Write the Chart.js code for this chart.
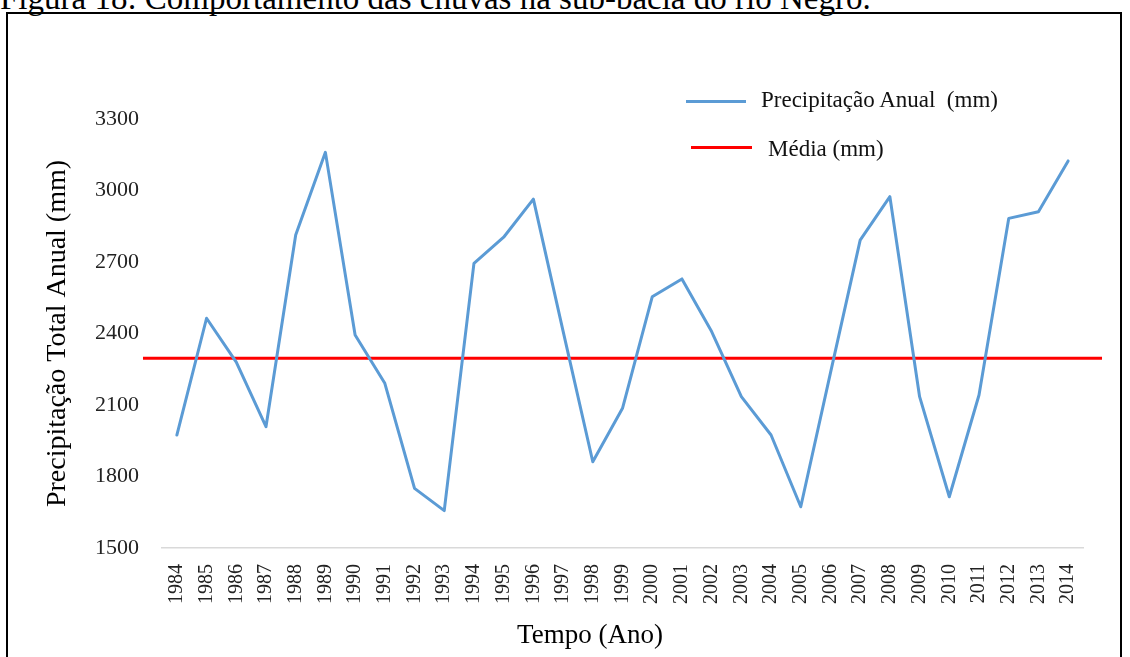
<!DOCTYPE html>
<html>
<head>
<meta charset="utf-8">
<script src="https://cdn.jsdelivr.net/npm/chart.js@4/dist/chart.umd.min.js"></script>
<style>
  html, body { margin: 0; padding: 0; background: #fff; width: 1130px; height: 657px; overflow: hidden; }
  body { position: relative; font-family: "Liberation Serif", "DejaVu Serif", serif; color: #000; }
  #frame { position: absolute; left: 6px; top: 12px; width: 1116px; height: 700px; border: 2px solid #000; box-sizing: border-box; }
  #fig { position: absolute; left: 0px; top: -18px; font-size: 33px; line-height: 33px; white-space: nowrap; }
  #wrap { position: absolute; left: 0; top: 0; width: 1130px; height: 657px; }
  .lg { position: absolute; white-space: nowrap; font-size: 23px; line-height: 23px; color: #111; }
  .sw { position: absolute; height: 3px; }
  #xt { position: absolute; top: 619px; left: 490px; width: 200px; text-align: center; font-size: 27px; line-height: 30px; color: #000; white-space: nowrap; }
</style>
</head>
<body>
<div id="fig">Figura 18: Comportamento das chuvas na sub-bacia do rio Negro.</div>
<div id="frame"></div>
<div id="wrap"><canvas id="c" width="1130" height="657"></canvas></div>
<div class="sw" style="left:686px; top:100px; width:60px; background:#5B9BD5;"></div>
<div class="lg" style="left:761px; top:88px;">Precipitação Anual&nbsp; (mm)</div>
<div class="sw" style="left:691px; top:146px; width:61px; background:#FF0000;"></div>
<div class="lg" style="left:768px; top:137px;">Média (mm)</div>
<div id="xt">Tempo (Ano)</div>
<script>
const years = [1984,1985,1986,1987,1988,1989,1990,1991,1992,1993,1994,1995,1996,1997,1998,1999,2000,2001,2002,2003,2004,2005,2006,2007,2008,2009,2010,2011,2012,2013,2014];
const precipitation = [1974,2464,2280,2009,2813,3160,2394,2191,1750,1657,2694,2804,2964,2410,1862,2086,2554,2629,2408,2135,1974,1673,2235,2792,2974,2135,1715,2142,2883,2911,3124];
const meanValue = 2296;
const meanSpan = [1982.86, 2015.14];
const yTicks = [1500,1800,2100,2400,2700,3000,3300];
const seriesLabels = ["Precipitação Anual  (mm)", "Média (mm)"];
const yTitle = "Precipitação Total Anual (mm)";

const ctx = document.getElementById('c');
new Chart(ctx, {
  type: 'line',
  data: {
    datasets: [
      {
        label: seriesLabels[0],
        data: years.map((y, i) => ({ x: y, y: precipitation[i] })),
        borderColor: '#5B9BD5',
        borderWidth: 3,
        pointRadius: 0,
        tension: 0,
        borderJoinStyle: 'round',
        borderCapStyle: 'round',
        fill: false
      },
      {
        label: seriesLabels[1],
        data: meanSpan.map(x => ({ x: x, y: meanValue })),
        borderColor: '#FF0000',
        borderWidth: 3,
        pointRadius: 0,
        fill: false,
        clip: false
      }
    ]
  },
  options: {
    responsive: false,
    animation: false,
    layout: { padding: { top: 119, right: 47, left: 0, bottom: 0 } },
    plugins: { legend: { display: false }, tooltip: { enabled: false }, title: { display: false } },
    scales: {
      x: {
        type: 'linear',
        min: years[0] - 0.5,
        max: years[years.length - 1] + 0.5,
        afterBuildTicks: s => { s.ticks = years.map(v => ({ value: v })); },
        afterFit: s => { s.height = 109; },
        grid: { display: false, drawTicks: false },
        border: { display: true, color: '#D9D9D9', width: 1.5 },
        ticks: {
          autoSkip: false,
          minRotation: 90,
          maxRotation: 90,
          padding: 16,
          color: '#222',
          font: { family: 'Liberation Serif', size: 20 },
          callback: v => String(v)
        }
      },
      y: {
        min: yTicks[0],
        max: yTicks[yTicks.length - 1],
        afterBuildTicks: s => { s.ticks = yTicks.map(v => ({ value: v })); },
        afterFit: s => { s.width = 162; },
        grid: { display: false, drawTicks: false },
        border: { display: false },
        ticks: {
          padding: 23,
          color: '#222',
          font: { family: 'Liberation Serif', size: 22 },
          callback: v => String(v)
        },
        title: {
          display: true,
          text: yTitle,
          color: '#000',
          font: { family: 'Liberation Serif', size: 28, lineHeight: 1.2 },
          padding: { top: 41, bottom: 0 }
        }
      }
    }
  }
});
</script>
</body>
</html>
